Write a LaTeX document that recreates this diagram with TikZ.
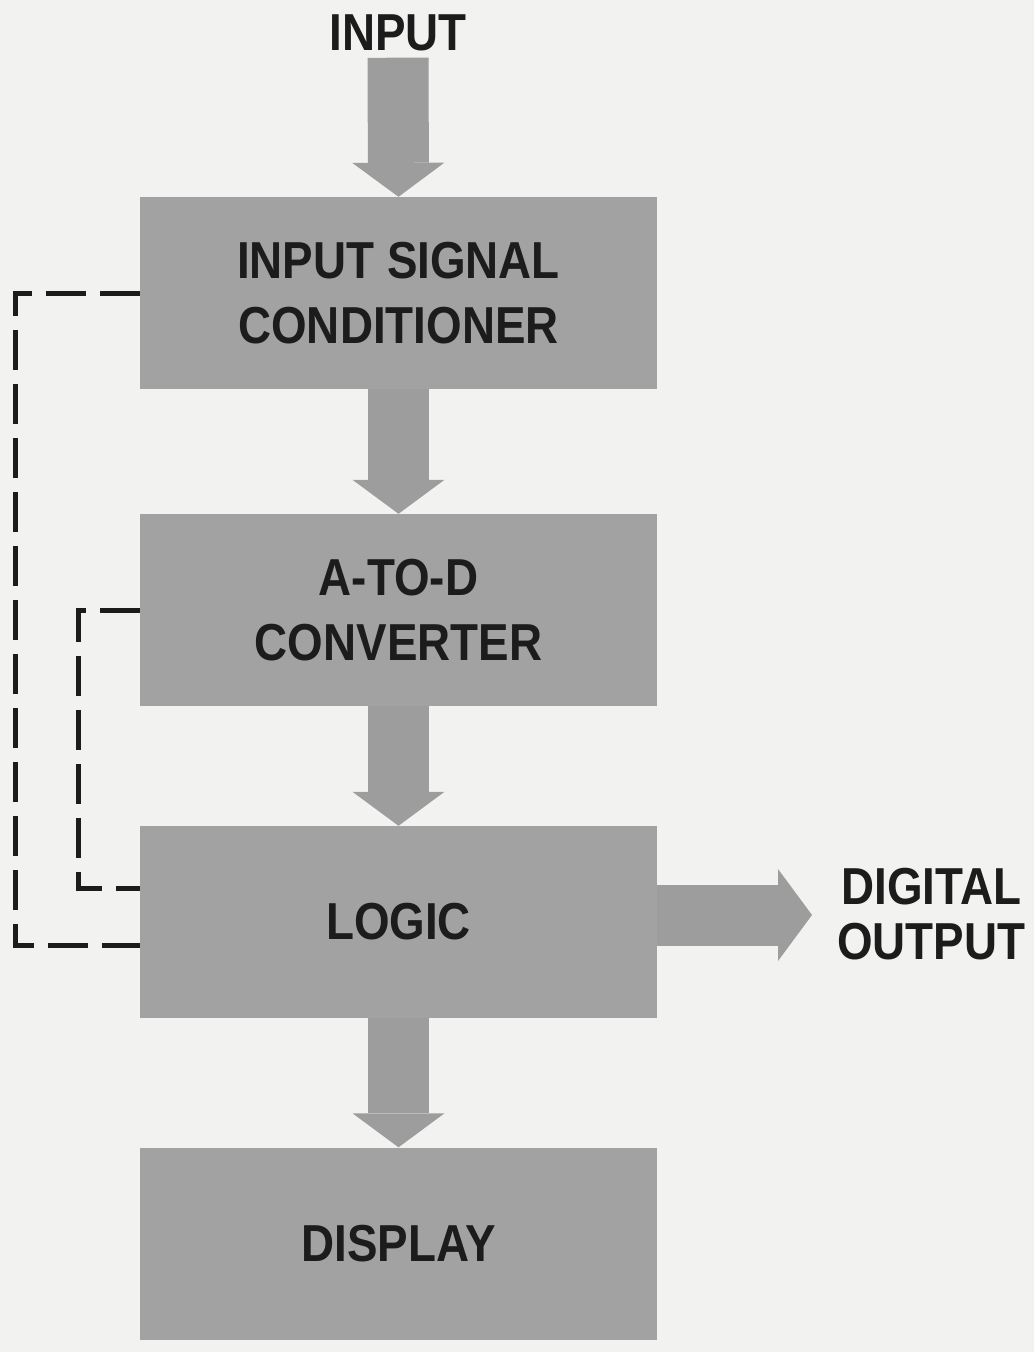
\documentclass[tikz,border=0pt]{standalone}
\usepackage{fontspec}
\usepackage{tikz}
\usetikzlibrary{arrows.meta,positioning,calc}
\newfontfamily\blockfont{Liberation Sans}[FakeStretch=0.88]
\definecolor{paperBg}{HTML}{F2F2F0}
\definecolor{blockGray}{HTML}{A2A2A2}
\definecolor{arrowGray}{HTML}{9D9D9D}
\definecolor{inkDark}{HTML}{1C1C1C}

\begin{document}
\begin{tikzpicture}[
  x=1pt,
  y=-1pt,
  label/.style={
    font=\blockfont\bfseries\fontsize{52}{65}\selectfont,
    text=inkDark,
    align=center,
    inner sep=0pt
  },
  block/.style={
    label,
    rectangle,
    fill=blockGray,
    minimum width=517pt,
    minimum height=192pt
  },
  bigarrow/.style={
    draw=arrowGray,
    line width=61pt,
    -{Triangle[width=92pt,length=34pt,line width=0pt]}
  },
  feedback/.style={
    draw=inkDark,
    line width=5pt,
    dash pattern=on 40pt off 14pt
  }
]

% Page and background.
\fill[paperBg] (0,0) rectangle (1034,1352);
\useasboundingbox (0,0) rectangle (1034,1352);

% Blocks.
\node[block] (cond) at (398.5,293) {INPUT SIGNAL\\CONDITIONER};
\node[block] (adc) at (398.5,610) {A-TO-D\\CONVERTER};
\node[block] (logic) at (398.5,922) {LOGIC};
\node[block] (disp) at (398.5,1243.5) {DISPLAY};

% Free labels.
\node[label,anchor=base] (in) at (398,50) {INPUT};
\node[label,font=\blockfont\bfseries\fontsize{52}{55}\selectfont,anchor=west] (out) at (837,914) {DIGITAL\\OUTPUT};

% Signal flow.
\draw[bigarrow,shorten <=7pt] (in.south) -- (cond.north);
\draw[bigarrow] (cond.south) -- (adc.north);
\draw[bigarrow] (adc.south) -- (logic.north);
\draw[bigarrow] (logic.south) -- (disp.north);
\draw[bigarrow,shorten >=25pt] ($(logic.east)+(0,-7)$) -- ($(logic.east -| out.west)+(0,-7)$);

% Feedback paths.
\coordinate (fbOuter) at (15,945);
\coordinate (fbInner) at (78,888);
\draw[feedback] (cond.west) -| (fbOuter) -- (fbOuter -| logic.west);
\draw[feedback] (adc.west) -| (fbInner) -- (fbInner -| logic.west);

\end{tikzpicture}
\end{document}
